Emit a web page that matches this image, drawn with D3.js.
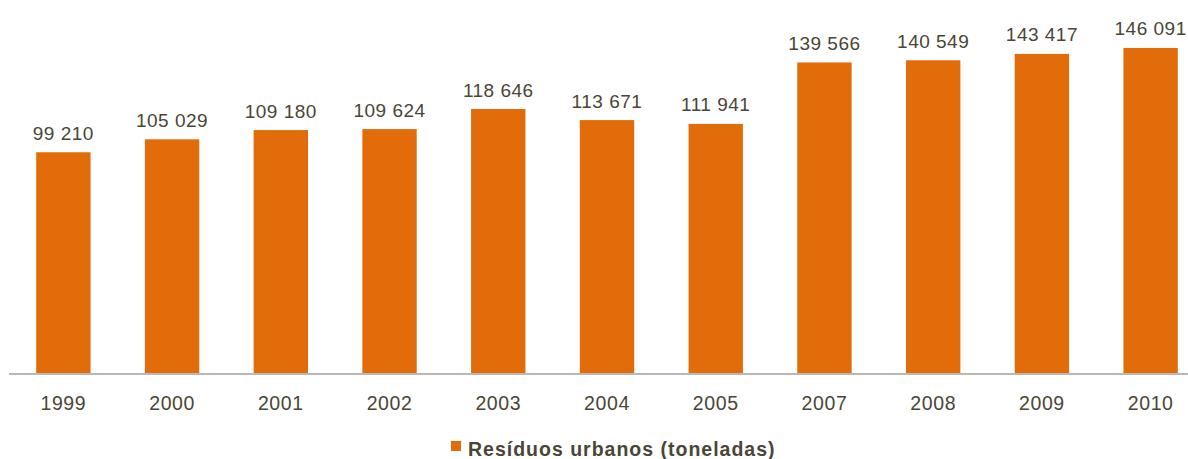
<!DOCTYPE html>
<html>
<head>
<meta charset="utf-8">
<script src="https://cdn.jsdelivr.net/npm/d3@7"></script>
<style>
  html, body { margin: 0; padding: 0; background: #fff; }
  svg { display: block; font-family: "Liberation Sans", Arial, sans-serif; }
</style>
</head>
<body>
<svg id="chart" width="1188" height="459"></svg>
<script>
// Municipal waste collected per year (tonnes)
const years = ["1999", "2000", "2001", "2002", "2003", "2004", "2005", "2007", "2008", "2009", "2010"];
const tonnes = [99210, 105029, 109180, 109624, 118646, 113671, 111941, 139566, 140549, 143417, 146091];
const seriesName = "Resíduos urbanos (toneladas)";

const barColor = "#E36C0A";
const textColor = "#4A4636";

const svg = d3.select("#chart");

const x = d3.scaleBand()
  .domain(years)
  .range([9, 1205])
  .paddingInner(0.5)
  .paddingOuter(0.25);

const y = d3.scaleLinear()
  .domain([0, 160000])
  .range([373, 17]);

// thousands separated by a space
const fmt = v => d3.format(",")(v).replace(/,/g, " ");

const data = years.map((yr, i) => ({ year: yr, value: tonnes[i] }));

svg.append("g")
  .selectAll("rect")
  .data(data)
  .join("rect")
  .attr("x", d => x(d.year))
  .attr("y", d => y(d.value))
  .attr("width", x.bandwidth())
  .attr("height", d => y(0) - y(d.value))
  .attr("fill", barColor);

svg.append("g")
  .selectAll("text")
  .data(data)
  .join("text")
  .attr("x", d => x(d.year) + x.bandwidth() / 2)
  .attr("y", d => y(d.value) - 12.5)
  .attr("text-anchor", "middle")
  .attr("font-size", "19px")
  .attr("letter-spacing", "0.5px")
  .attr("fill", textColor)
  .text(d => fmt(d.value));

// category axis
const xAxis = svg.append("g")
  .attr("transform", "translate(0,374)")
  .call(d3.axisBottom(x).tickSize(0).tickPadding(0));
xAxis.select(".domain").remove();
xAxis.append("line")
  .attr("x1", 9).attr("x2", 1188)
  .attr("y1", 0).attr("y2", 0)
  .attr("stroke", "#A0A0A0")
  .attr("stroke-width", 1.5);
xAxis.selectAll(".tick text")
  .attr("y", 36)
  .attr("dy", null)
  .attr("font-size", "19.5px")
  .attr("letter-spacing", "0.6px")
  .attr("font-family", "Liberation Sans, Arial, sans-serif")
  .attr("fill", textColor);

// legend
const legend = svg.append("g").attr("transform", "translate(451,441)");
legend.append("rect")
  .attr("width", 10).attr("height", 10)
  .attr("fill", barColor);
legend.append("text")
  .attr("x", 17).attr("y", 15)
  .attr("font-size", "19.5px")
  .attr("font-weight", "bold")
  .attr("letter-spacing", "1px")
  .attr("fill", textColor)
  .text(seriesName);
</script>
</body>
</html>
